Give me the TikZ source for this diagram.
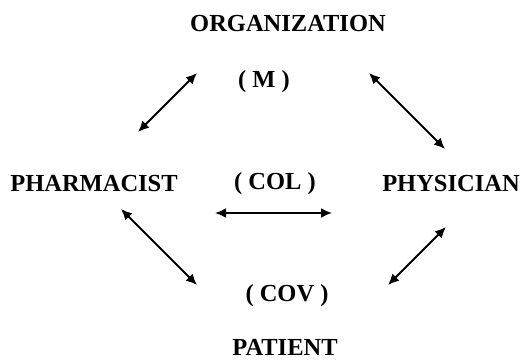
\documentclass[tikz,border=0pt]{standalone}
\usepackage{fontspec}
\setmainfont{Liberation Serif}
\usetikzlibrary{arrows.meta}
\begin{document}
\begin{tikzpicture}[x=1pt,y=-1pt,
  lbl/.style={font=\fontsize{24.5}{28}\selectfont\bfseries, inner sep=0pt, anchor=center},
  link/.style={line width=2pt, {Latex[length=11pt,width=10pt]}-{Latex[length=11pt,width=10pt]}}]
\useasboundingbox (0,0) rectangle (526,363);
\node[lbl] (org) at (288,24) {ORGANIZATION};
\node[lbl] (m) at (264,82) {( M )};
\node[lbl] (pha) at (94,184) {PHARMACIST};
\node[lbl] (col) at (275,184) {( COL )};
\node[lbl] (phy) at (451,184) {PHYSICIAN};
\node[lbl] (cov) at (287,296) {( COV )};
\node[lbl] (pat) at (285,347) {PATIENT};
\coordinate (tl1) at (138,132); \coordinate (tl2) at (197,73);
\coordinate (tr1) at (369,73);  \coordinate (tr2) at (445,149);
\coordinate (c1) at (215,213);  \coordinate (c2) at (332,213);
\coordinate (bl1) at (121,209); \coordinate (bl2) at (197,285);
\coordinate (br1) at (388,285); \coordinate (br2) at (446,227);
\draw[link] (tl1) -- (tl2);
\draw[link] (tr1) -- (tr2);
\draw[link] (c1) -- (c2);
\draw[link] (bl1) -- (bl2);
\draw[link] (br1) -- (br2);
\end{tikzpicture}
\end{document}
